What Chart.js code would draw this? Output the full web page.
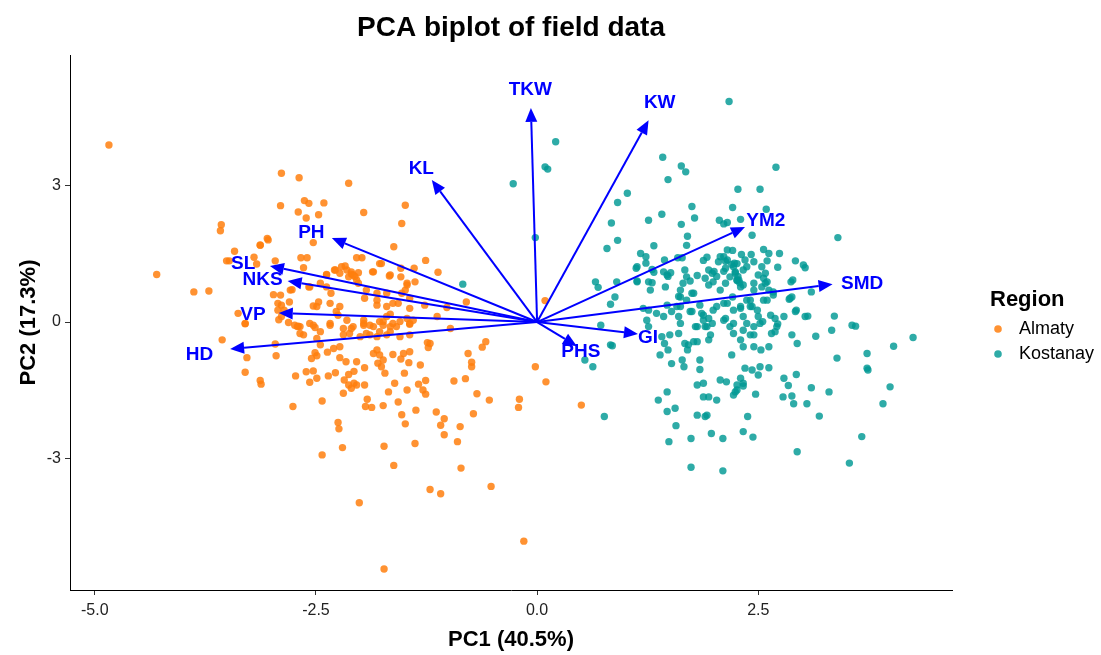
<!DOCTYPE html>
<html>
<head>
<meta charset="utf-8">
<title>PCA biplot of field data</title>
<script src="https://cdn.jsdelivr.net/npm/chart.js@4.4.0/dist/chart.umd.min.js"></script>
<style>
  body { margin: 0; background: #fff; }
  canvas { display: block; }
</style>
</head>
<body>
<canvas id="biplot" width="1101" height="655"></canvas>
<script>
// PCA scores (PC1, PC2)
const almaty = [
  [-4.84,3.88],[-2.89,3.26],[-2.69,3.16],[-2.90,2.55],[-2.63,2.66],[-2.58,2.60],[-2.41,2.61],[-2.70,2.41],[-2.47,2.35],[-2.61,2.28],
  [-3.57,2.13],[-3.58,2.00],[-3.05,1.83],[-3.13,1.68],[-2.53,1.74],[-3.42,1.55],[-3.20,1.42],[-3.48,1.34],[-3.17,1.27],[-2.96,1.34],
  [-2.67,1.41],[-2.60,1.41],[-2.64,1.19],[-4.30,1.04],[-3.88,0.66],[-3.71,0.68],[-2.38,1.04],[-2.28,1.14],[-2.98,0.60],[-2.90,0.59],
  [-2.77,0.71],[-2.93,0.41],[-2.80,0.44],[-2.47,0.44],[-2.53,0.35],[-2.33,0.63],[-3.38,0.19],[-3.30,-0.03],[-2.92,0.05],[-2.81,-0.01],
  [-2.86,0.26],[-2.70,-0.09],[-2.53,-0.07],[-2.34,-0.03],[-2.25,0.15],[-2.58,0.77],[-3.51,1.34],[-3.04,1.80],
  [-2.13,3.04],[-1.96,2.40],[-1.49,2.56],[-1.53,2.16],[-1.62,1.65],[-1.26,1.35],[-2.04,1.41],[-1.98,1.41],[-1.76,1.28],[-1.12,1.09],
  [-1.39,1.18],[-1.54,1.18],[-1.67,1.01],[-1.54,0.99],[-1.86,1.10],[-2.10,1.05],[-2.02,1.08],[-2.06,1.00],[-1.47,0.81],[-1.53,0.63],
  [-1.44,0.52],[-1.81,0.37],[-1.63,0.41],[-1.57,0.41],[-1.27,0.37],[-0.80,0.44],[-1.02,0.32],[-1.13,0.12],[-1.66,0.17],[-1.44,-0.03],
  [-1.74,0.01],[-1.96,-0.03],[0.09,0.47],
  [-3.56,-0.39],[-3.30,-0.04],[-2.96,-0.48],[-2.95,-0.74],[-3.28,-0.78],[-3.30,-1.10],[-3.13,-1.28],[-3.12,-1.36],[-2.73,-1.18],[-2.76,-1.85],
  [-2.43,-1.73],[-2.25,-2.20],[-2.24,-2.34],[-2.20,-2.75],[-2.43,-2.91],[-2.01,-3.96],[-1.74,-1.83],[-1.73,-2.72],[-1.62,-3.14],[-1.21,-3.67],
  [-1.09,-3.76],[-1.57,-1.75],[-1.53,-2.03],[-1.49,-2.23],[-1.38,-2.66],[-1.37,-1.93],[-1.14,-1.97],[-1.05,-2.12],[-1.09,-2.26],[-1.05,-2.47],
  [-1.68,-1.53],[-1.47,-1.49],[-1.92,-1.69],[-1.94,-1.85],[-1.87,-1.87],[-2.19,-1.56],[-1.61,-1.34],[-1.34,-1.36],[-1.29,-1.49],[-1.26,-1.58],
  [-1.26,-1.28],[-1.32,-0.94],[-1.45,-0.89],[-1.50,-1.12],[-1.24,-0.45],[-1.23,-0.56],[-1.51,-0.69],[-1.44,-0.65],[-1.63,-0.71],[-1.54,-0.81],
  [-1.76,-0.98],[-1.72,-1.12],[-1.80,-0.90],[-1.74,-0.83],[-1.85,-0.69],[-1.78,-0.72],[-1.81,-0.61],[-1.95,-1.00],[-2.04,-0.87],[-2.13,-1.15],
  [-2.18,-1.27],[-2.13,-1.38],[-2.07,-1.34],[-2.04,-1.38],[-2.10,-1.45],[-1.95,-1.38],[-2.07,-1.08],[-2.28,-1.11],[-2.36,-1.18],[-2.53,-1.07],
  [-2.49,-1.23],[-2.57,-1.32],[-2.61,-1.09],[-2.55,-0.80],[-2.49,-0.74],[-2.51,-0.67],[-2.37,-0.66],[-2.23,-0.78],[-2.16,-0.87],[-2.30,-0.58],
  [-2.23,-0.54],[-2.45,-0.50],[-2.68,-0.10],[-2.51,-0.12],[-2.34,-0.07],[-2.19,-0.14],[-2.10,-0.14],[-1.96,-0.07],[-1.85,-0.10],[-1.74,-0.07],
  [-1.66,-0.10],[-1.59,-0.10],[-1.44,-0.05],[-2.68,-0.25],[-2.64,-0.28],[-2.49,-0.36],[-2.19,-0.28],[-2.12,-0.25],[-1.93,-0.25],[-1.81,-0.32],
  [-1.70,-0.28],[-1.55,-0.32],[-1.44,-0.28],
  [-0.90,-2.62],[-0.86,-3.20],[-0.52,-3.60],[-0.15,-4.80],[-1.73,-5.41],
  [-0.98,-0.14],[-1.21,-0.47],[-0.58,-0.43],[-0.62,-0.55],[-0.78,-0.69],[-0.74,-0.88],[-0.74,-0.98],[-0.94,-1.29],[-0.81,-1.24],[-0.68,-1.57],
  [-0.54,-1.71],[-0.20,-1.69],[-0.21,-1.87],[-0.02,-0.98],[0.10,-1.31],[0.50,-1.82],[-0.72,-2.01],[-0.87,-2.29],
  [-3.13,1.69],[-1.78,1.28],[-2.21,1.21],[-2.17,1.23],[-2.15,1.14],[-2.10,1.10],[-2.23,1.07],[-2.13,0.99],[-2.08,1.03],[-2.04,0.92],
  [-2.38,1.03],[-2.29,1.14],[-1.85,1.10],[-1.66,1.03],[-1.47,0.85],[-1.49,0.70],[-1.70,0.63],[-1.81,0.63],[-1.93,0.70],[-2.02,0.85],
  [-1.95,0.52],[-1.81,0.48],[-1.70,0.34],[-1.44,0.30],[-1.38,0.88],[-2.79,0.70],[-2.89,0.37],[-2.93,0.26],[-2.89,0.12],[-2.57,0.77],
  [-2.45,0.85],[-2.38,0.77],[-2.49,0.34],[-2.34,0.41],[-2.23,0.34],[-2.27,0.23],[-2.57,-0.03],[-2.45,-0.21],[-2.71,-0.10],[-2.74,-0.07],
  [-2.15,0.04],[-2.08,-0.10],[-1.96,0.04],[-1.89,-0.07],[-1.78,0.01],[-1.70,0.12],[-1.63,-0.03],[-1.55,0.01],[-1.47,0.08],[-1.40,0.04],
  [-2.00,-0.32],[-1.89,-0.28],[-1.78,-0.21],[-1.66,-0.21]
];

const kostanay = [
  [0.21,3.95],[0.09,3.40],[0.12,3.35],[-0.27,3.03],[-0.02,1.85],[-0.84,0.83],
  [0.72,-0.07],[0.83,-0.50],[0.54,-0.83],[0.63,-0.98],[0.76,-2.07],
  [2.79,-1.23],[2.93,-1.15],[2.84,-1.39],[2.78,-1.64],[2.88,-1.62],[2.90,-1.79],[3.05,-1.79],[3.10,-1.44],[3.30,-1.53],[3.19,-2.06],
  [3.74,-1.05],[3.99,-1.42],[3.91,-1.79],[3.67,-2.51],[2.94,-2.84],[3.53,-3.09],
  [2.21,2.51],[2.59,2.47],[3.40,1.85],[2.43,1.90],[2.56,1.59],[2.62,1.50],[2.74,1.50],[2.92,1.34],[3.01,1.25],[3.03,1.19],
  [2.87,0.88],[2.89,0.92],[3.10,0.66],[2.85,0.50],[2.88,0.55],[2.67,0.59],[2.56,0.48],[2.93,0.26],[3.06,0.13],[3.36,0.13],
  [3.33,-0.18],[3.56,-0.07],[3.60,-0.09],[4.25,-0.34],[4.03,-0.53],[3.73,-0.69],[3.73,-1.01],[3.39,-0.79],[3.15,-0.31],[2.88,-0.28],
  [2.94,-0.47],[2.62,-0.54],[2.53,-0.61],[2.69,-0.21],[2.72,-0.04],[2.65,-0.25],[2.55,0.01],[2.64,0.15],[2.45,-0.28],
  [2.11,1.43],[2.15,1.36],[2.13,1.18],[2.22,1.21],[2.24,1.10],[2.18,0.99],[2.26,0.92],[2.35,1.36],[2.37,1.21],[2.45,1.32],
  [2.33,1.14],[2.30,0.77],[2.45,0.85],[2.50,1.03],[2.56,0.96],[2.54,0.77],[2.45,0.70],[2.37,0.48],[2.30,0.34],[2.41,0.34],
  [2.49,0.26],[2.15,0.41],[2.21,0.55],[2.13,0.85],[2.11,0.04],[2.22,-0.03],[2.18,-0.10],[2.22,-0.25],[2.37,-0.03],[2.45,-0.10],
  [2.41,-0.28],[2.30,-0.39],[2.33,-0.54],[2.52,-0.03],[2.45,-0.54],
  [2.20,-0.72],[2.35,-1.01],[2.52,-0.98],[2.62,-1.00],[2.50,-1.16],[2.14,-1.31],[2.26,-1.38],[2.33,-1.34],[2.24,-1.53],[2.47,-1.58],[2.43,-1.05],
  [0.69,0.76],[0.88,0.55],[0.83,0.39],[0.85,-0.52],
  [1.28,0.70],[1.26,0.26],[1.24,0.04],[1.26,-0.10],[1.35,0.19],[1.43,0.12],[1.47,0.37],[1.41,-0.32],[1.50,-0.28],[1.44,-0.47],
  [1.39,-0.72],[1.48,-0.61],[1.52,-0.91],[1.64,-0.83],[1.66,-0.98],[1.60,-0.25],[1.62,-0.03],[1.67,-0.47],[1.71,-0.50],[1.77,-0.43],
  [1.81,-0.43],[1.70,-0.61],[1.84,-0.83],[1.84,-1.04],[1.79,-0.10],[1.75,0.23],[1.77,0.63],[1.60,0.12],[1.58,0.34],[1.60,0.56],
  [1.62,0.70],[1.45,0.77],[1.13,0.88],[1.26,0.88],
  [1.88,0.04],[1.94,0.08],[1.98,-0.03],[1.92,-0.10],[1.86,0.19],[1.96,-0.28],[1.94,-0.39],
  [2.07,-1.27],[2.30,-1.23],[2.33,-1.40],[2.26,-1.49],[2.22,-1.60],
  [1.81,-1.38],[1.88,-1.34],[1.88,-1.64],[1.94,-1.64],[2.03,-1.71],[1.47,-1.53],[1.56,-1.89],[1.47,-1.96],[1.37,-1.71],[1.81,-2.04],
  [1.92,-2.04],[1.90,-2.07],[1.57,-2.27],[1.74,-2.55],[1.49,-2.62],[1.97,-2.44],[2.10,-2.55],[2.33,-2.40],[2.44,-2.52],[2.38,-2.07],
  [1.74,-3.18],[2.10,-3.26],[1.20,0.30],[1.52,0.23],
  [2.17,4.83],[1.42,3.61],[1.63,3.42],[1.68,3.29],[1.48,3.12],[2.70,3.39],[2.27,2.91],[2.52,2.91],[1.02,2.82],[0.91,2.62],
  [0.84,2.17],[0.91,1.79],[0.79,1.61],[1.75,2.53],[1.78,2.28],[1.41,2.36],[1.26,2.23],[1.63,2.14],[1.70,1.88],[1.69,1.68],
  [1.32,1.67],[2.30,2.25],[2.06,2.23],[2.11,2.15],[2.15,2.18],
  [1.17,1.50],[1.23,1.43],[1.23,1.29],[1.12,1.18],[1.13,0.90],[1.32,1.09],[1.30,1.15],[1.30,0.86],[1.44,1.36],[1.51,1.08],
  [1.48,1.00],[1.59,1.41],[1.64,1.41],[1.73,0.90],[1.81,1.02],[1.88,1.35],[1.92,1.42],[1.94,1.14],[2.00,1.11],[2.03,1.00],
  [1.99,0.88],[2.13,1.33],[2.20,1.26],[2.23,1.29],[2.11,1.11],[2.21,1.57],[2.31,1.48],[2.42,1.48],[2.27,1.00],[2.26,0.91],
  [2.29,0.86],[2.60,1.34],[2.72,1.20],[2.58,0.85],[0.66,0.88],[0.90,0.88],
  [1.13,1.21],[1.43,1.10],[1.47,1.03],[1.67,1.14],[1.69,0.99],[1.65,0.85],[1.62,0.55],[1.75,0.63],[1.69,0.48],[1.90,0.96],
  [1.98,1.07],[1.94,0.81],[2.07,0.70],[2.24,1.07],[2.26,1.28],[2.28,0.92],[2.33,0.81],[2.58,1.07],[2.60,0.88],[2.54,1.21],
  [2.62,0.70],[2.67,0.66],[2.07,1.43],[2.05,1.32],[2.15,1.58],
  [1.62,0.34],[1.73,0.23],[1.84,0.37],[1.88,0.15],[1.90,-0.10],[1.81,-0.10],[1.99,0.26],[2.03,0.34],[2.11,0.41],[2.13,0.08],
  [2.22,0.26],[2.30,0.30],[2.33,0.12],[2.41,0.48],[2.43,0.34],[2.50,0.12],[2.33,-0.18],[2.60,0.48],[2.69,0.08],[2.71,-0.10],
  [2.79,0.12],[2.86,0.52],[2.92,0.23],[3.03,0.12]
];

// variable loadings (arrow tips)
const loadingNames = ['TKW', 'KW', 'KL', 'YM2', 'SMD', 'PH', 'SL', 'NKS', 'VP', 'HD', 'PHS', 'GI'];
const loadingX = [-0.07, 1.26, -1.19, 2.35, 3.34, -2.32, -3.02, -2.82, -2.92, -3.47, 0.45, 1.14];
const loadingY = [4.69, 4.42, 3.11, 2.08, 0.83, 1.84, 1.23, 0.90, 0.20, -0.59, -0.53, -0.26];

const regions = ['Almaty', 'Kostanay'];
const xTicks = [-5, -2.5, 0, 2.5];
const yTicks = [-3, 0, 3];

const FONT = '"Liberation Sans", Arial, sans-serif';
const ORANGE = 'rgba(255,127,14,0.85)';
const TEAL = 'rgba(0,153,148,0.82)';

const toPts = arr => arr.map(p => ({x: p[0], y: p[1]}));

const biplotExtras = {
  id: 'biplotExtras',
  afterDatasetsDraw(chart) {
    const {ctx, scales: {x, y}} = chart;
    const x0 = x.getPixelForValue(0), y0 = y.getPixelForValue(0);
    ctx.save();
    ctx.strokeStyle = '#0000FF';
    ctx.fillStyle = '#0000FF';
    ctx.lineWidth = 2;
    loadingNames.forEach((name, i) => {
      const x1 = x.getPixelForValue(loadingX[i]);
      const y1 = y.getPixelForValue(loadingY[i]);
      const a = Math.atan2(y1 - y0, x1 - x0);
      const len = 14, half = 6;
      const bx = x1 - len * Math.cos(a), by = y1 - len * Math.sin(a);
      ctx.beginPath();
      ctx.moveTo(x0, y0);
      ctx.lineTo(bx, by);
      ctx.stroke();
      ctx.beginPath();
      ctx.moveTo(x1, y1);
      ctx.lineTo(bx + half * Math.sin(a), by - half * Math.cos(a));
      ctx.lineTo(bx - half * Math.sin(a), by + half * Math.cos(a));
      ctx.closePath();
      ctx.fill();
    });
    ctx.font = 'bold 19px ' + FONT;
    ctx.textAlign = 'center';
    ctx.textBaseline = 'middle';
    loadingNames.forEach((name, i) => {
      ctx.fillText(name, x.getPixelForValue(loadingX[i] * 1.1), y.getPixelForValue(loadingY[i] * 1.1) + 3);
    });
    ctx.restore();
  },
  afterDraw(chart) {
    const {ctx, chartArea: ca} = chart;
    const cx = (ca.left + ca.right) / 2;
    ctx.save();
    ctx.fillStyle = '#000';
    ctx.textAlign = 'center';
    ctx.textBaseline = 'middle';
    ctx.font = 'bold 28px ' + FONT;
    ctx.fillText('PCA biplot of field data', cx, 28);
    ctx.font = 'bold 22px ' + FONT;
    ctx.fillText('PC1 (40.5%)', cx, 640);
    ctx.save();
    ctx.translate(29, (ca.top + ca.bottom) / 2);
    ctx.rotate(-Math.PI / 2);
    ctx.fillText('PC2 (17.3%)', 0, 0);
    ctx.restore();

    // legend
    ctx.textAlign = 'left';
    ctx.font = 'bold 22px ' + FONT;
    ctx.fillText('Region', 990, 300);
    ctx.font = '18px ' + FONT;
    [ORANGE, TEAL].forEach((c, i) => {
      const ly = 329 + i * 25;
      ctx.fillStyle = c;
      ctx.beginPath();
      ctx.arc(998, ly, 3.8, 0, Math.PI * 2);
      ctx.fill();
      ctx.fillStyle = '#000';
      ctx.fillText(regions[i], 1019, ly);
    });
    ctx.restore();
  }
};

new Chart(document.getElementById('biplot').getContext('2d'), {
  type: 'scatter',
  data: {
    datasets: [{
      label: regions[0],
      data: toPts(almaty),
      backgroundColor: ORANGE,
      borderWidth: 0,
      pointRadius: 3.7
    }, {
      label: regions[1],
      data: toPts(kostanay),
      backgroundColor: TEAL,
      borderWidth: 0,
      pointRadius: 3.7
    }]
  },
  options: {
    responsive: false,
    animation: false,
    layout: {
      padding: {top: 55, right: 149, left: 0, bottom: 0}
    },
    scales: {
      x: {
        type: 'linear',
        min: -5.28,
        max: 4.69,
        afterFit: s => { s.height = 65; },
        afterBuildTicks: s => { s.ticks = xTicks.map(v => ({value: v})); },
        ticks: {
          color: '#222',
          font: {family: FONT, size: 16},
          padding: 6,
          callback: v => v.toFixed(1)
        },
        grid: {drawOnChartArea: false, drawTicks: true, tickLength: 5, color: '#333'},
        border: {display: true, color: '#000', width: 1}
      },
      y: {
        type: 'linear',
        min: -5.87,
        max: 5.85,
        afterFit: s => { s.width = 70; },
        afterBuildTicks: s => { s.ticks = yTicks.map(v => ({value: v})); },
        ticks: {
          color: '#222',
          font: {family: FONT, size: 16},
          padding: 4,
          callback: v => String(v)
        },
        grid: {drawOnChartArea: false, drawTicks: true, tickLength: 5, color: '#333'},
        border: {display: true, color: '#000', width: 1}
      }
    },
    plugins: {
      legend: {display: false},
      tooltip: {enabled: false}
    }
  },
  plugins: [biplotExtras]
});
</script>
</body>
</html>
